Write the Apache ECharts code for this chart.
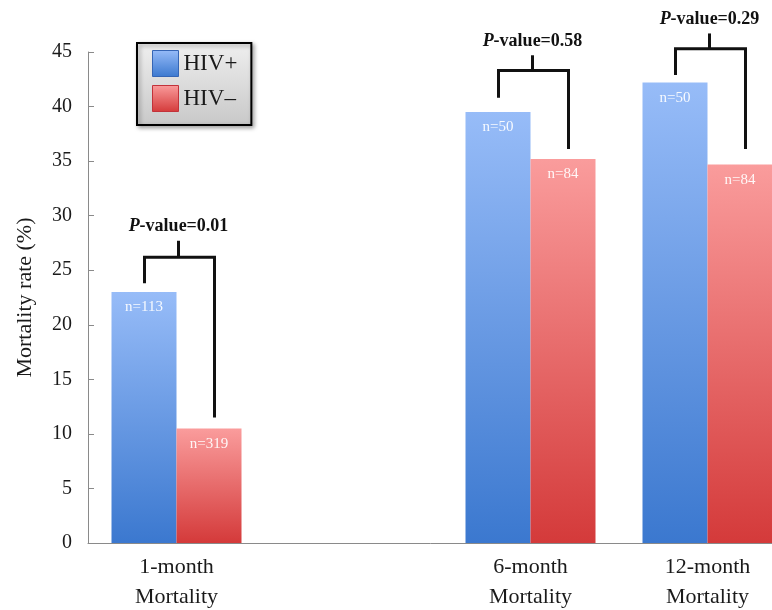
<!DOCTYPE html>
<html>
<head>
<meta charset="utf-8">
<script src="https://cdn.jsdelivr.net/npm/echarts@6/dist/echarts.min.js"></script>
<style>
  html, body { margin: 0; padding: 0; background: #ffffff; }
  #chart { width: 772px; height: 610px; }
</style>
</head>
<body>
<div id="chart"></div>
<script>
// Categories (the blank entry keeps a gap between 1-month and 6-month)
const categories = ['1-month\nMortality', '', '6-month\nMortality', '12-month\nMortality'];

// Mortality rate (%) per group
const hivPositive = [23.0, '-', 39.5, 42.2];
const hivNegative = [10.5, '-', 35.2, 34.7];

// Group sizes shown inside each bar
const hivPositiveN = [113, null, 50, 50];
const hivNegativeN = [319, null, 84, 84];

// Comparison brackets: category index, left leg end, bar top, stub top, right leg end
const bracketCategory = [0, 2, 3];
const bracketLeftEnd = [23.8, 40.8, 42.9];
const bracketTop = [26.2, 43.3, 45.3];
const bracketStubTop = [27.7, 44.7, 46.7];
const bracketRightEnd = [11.5, 36.1, 36.1];
const pValues = ['0.01', '0.58', '0.29'];

const yTicks = { min: 0, max: 45, interval: 5 };

const SERIF = '"Liberation Serif", "Times New Roman", serif';
const TEXT = '#1a1a1a';

function barGradient(top, bottom) {
  return new echarts.graphic.LinearGradient(0, 0, 0, 1, [
    { offset: 0, color: top },
    { offset: 1, color: bottom }
  ]);
}
const blueFill = barGradient('#97bcf8', '#3b78cf');
const redFill = barGradient('#fa9c9c', '#d43a3a');

const bracketData = bracketCategory.map((c, i) => [
  c, bracketLeftEnd[i], bracketTop[i], bracketStubTop[i], bracketRightEnd[i]
]);

const chart = echarts.init(document.getElementById('chart'), null, { renderer: 'canvas' });

chart.setOption({
  backgroundColor: '#ffffff',
  animation: false,
  grid: { left: 88, top: 52, width: 708, bottom: 67, containLabel: false, outerBoundsMode: 'none' },
  legend: {
    orient: 'vertical',
    left: 137,
    top: 43,
    padding: [7, 14, 13, 15],
    itemGap: 8,
    itemWidth: 26,
    itemHeight: 26,
    icon: 'rect',
    borderColor: '#000000',
    borderWidth: 2,
    borderRadius: 0,
    backgroundColor: new echarts.graphic.LinearGradient(0, 0, 0, 1, [
      { offset: 0, color: '#efefef' },
      { offset: 1, color: '#c8c8c8' }
    ]),
    shadowColor: 'rgba(0,0,0,0.35)',
    shadowBlur: 4,
    shadowOffsetX: 2,
    shadowOffsetY: 2,
    textStyle: { fontFamily: SERIF, fontSize: 23, color: TEXT },
    data: [
      { name: 'HIV+', itemStyle: { borderColor: '#3565b5', borderWidth: 1 } },
      { name: 'HIV\u2013', itemStyle: { borderColor: '#c2323a', borderWidth: 1 } }
    ]
  },
  xAxis: {
    type: 'category',
    data: categories,
    axisLine: { show: true, lineStyle: { color: '#8a8a8a', width: 1 } },
    axisTick: { show: false },
    axisLabel: {
      margin: 9,
      interval: 0,
      fontFamily: SERIF,
      fontSize: 22,
      lineHeight: 30,
      color: TEXT
    },
    splitLine: { show: false }
  },
  yAxis: {
    type: 'value',
    min: yTicks.min,
    max: yTicks.max,
    interval: yTicks.interval,
    name: 'Mortality rate (%)',
    nameLocation: 'middle',
    nameGap: 52,
    nameTextStyle: { fontFamily: SERIF, fontSize: 22, color: TEXT },
    axisLine: { show: true, lineStyle: { color: '#8a8a8a', width: 1 } },
    axisTick: { show: true, inside: true, length: 6, lineStyle: { color: '#8a8a8a' } },
    axisLabel: { margin: 16, fontFamily: SERIF, fontSize: 20, color: TEXT },
    splitLine: { show: false }
  },
  series: [
    {
      name: 'HIV+',
      type: 'bar',
      data: hivPositive,
      barWidth: 65,
      barGap: '0%',
      itemStyle: { color: blueFill },
      label: {
        show: true,
        position: 'insideTop',
        distance: 8,
        fontFamily: SERIF,
        fontSize: 15,
        color: 'rgba(255,255,255,0.92)',
        formatter: p => hivPositiveN[p.dataIndex] == null ? '' : 'n=' + hivPositiveN[p.dataIndex]
      }
    },
    {
      name: 'HIV\u2013',
      type: 'bar',
      data: hivNegative,
      barWidth: 65,
      barGap: '0%',
      itemStyle: { color: redFill },
      label: {
        show: true,
        position: 'insideTop',
        distance: 8,
        fontFamily: SERIF,
        fontSize: 15,
        color: 'rgba(255,255,255,0.92)',
        formatter: p => hivNegativeN[p.dataIndex] == null ? '' : 'n=' + hivNegativeN[p.dataIndex]
      }
    },
    {
      name: 'brackets',
      type: 'custom',
      silent: true,
      z: 5,
      clip: false,
      data: bracketData,
      encode: { x: 0, y: [1, 2, 3, 4] },
      renderItem: function (params, api) {
        const cat = api.value(0);
        const leftEnd = api.coord([cat, api.value(1)]);
        const top = api.coord([cat, api.value(2)]);
        const stub = api.coord([cat, api.value(3)]);
        const rightEnd = api.coord([cat, api.value(4)]);
        const xL = top[0] - 32;
        const xR = top[0] + 38;
        const xC = top[0] + 2;
        const lineStyle = { stroke: '#111111', lineWidth: 3, fill: null, lineJoin: 'miter', lineCap: 'butt' };
        return {
          type: 'group',
          children: [
            {
              type: 'polyline',
              shape: { points: [[xL, leftEnd[1]], [xL, top[1]], [xR, top[1]], [xR, rightEnd[1]]] },
              style: lineStyle
            },
            {
              type: 'line',
              shape: { x1: xC, y1: top[1], x2: xC, y2: stub[1] },
              style: lineStyle
            },
            {
              type: 'text',
              x: xC,
              y: stub[1] - 5,
              style: {
                text: '{i|P}{b|-value=' + pValues[params.dataIndex] + '}',
                align: 'center',
                verticalAlign: 'bottom',
                rich: {
                  i: { fontFamily: SERIF, fontSize: 18, fontWeight: 'bold', fontStyle: 'italic', fill: '#111111' },
                  b: { fontFamily: SERIF, fontSize: 18, fontWeight: 'bold', fill: '#111111' }
                }
              }
            }
          ]
        };
      }
    }
  ]
});
</script>
</body>
</html>
